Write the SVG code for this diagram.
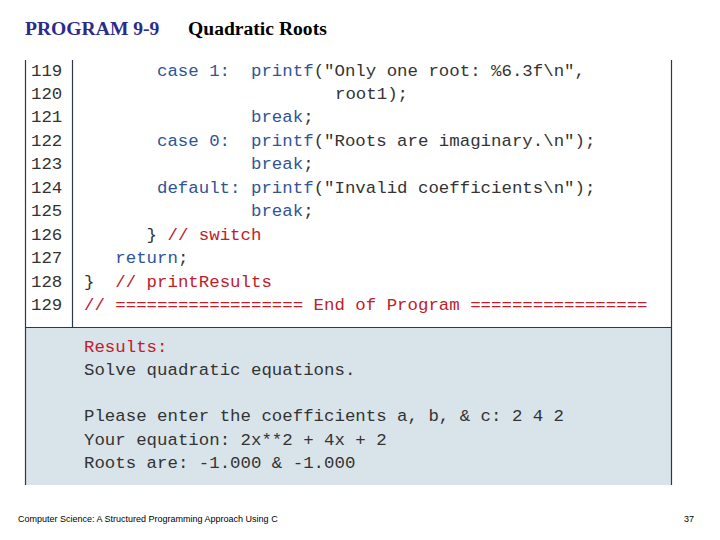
<svg xmlns="http://www.w3.org/2000/svg" width="720" height="540" viewBox="0 0 720 540">
<style>
.c{font-family:"Liberation Mono",monospace;font-size:17.4px;fill:#333;white-space:pre}
.k{fill:#2f5597}
.r{fill:#c0202a}
.t{font-family:"Liberation Serif",serif;font-size:19.6px;font-weight:bold}
.f{font-family:"Liberation Sans",sans-serif;font-size:9px;fill:#000}
</style>
<rect width="720" height="540" fill="#fff"/>
<text class="t" x="25" y="35" fill="#2b2b8c">PROGRAM 9-9</text>
<text class="t" x="188" y="35" fill="#000">Quadratic Roots</text>
<g id="listing">
<rect x="25" y="327" width="647" height="158" fill="#d9e3ea"/>
<path d="M25.5 60V485M671.5 60V485M72.5 60V327M25 327.5H672" stroke="#2a3a4a" stroke-width="1.2" fill="none"/>
<g class="c">
<text x="31" y="76">119</text><text x="157" y="76" class="k">case 1:</text><text x="251" y="76"><tspan class="k">printf</tspan>("Only one root: %6.3f\n",</text>
<text x="31" y="99">120</text><text x="335" y="99">root1);</text>
<text x="31" y="122">121</text><text x="251" y="122"><tspan class="k">break</tspan>;</text>
<text x="31" y="146">122</text><text x="157" y="146" class="k">case 0:</text><text x="251" y="146"><tspan class="k">printf</tspan>("Roots are imaginary.\n");</text>
<text x="31" y="169">123</text><text x="251" y="169"><tspan class="k">break</tspan>;</text>
<text x="31" y="193">124</text><text x="157" y="193" class="k">default:</text><text x="251" y="193"><tspan class="k">printf</tspan>("Invalid coefficients\n");</text>
<text x="31" y="216">125</text><text x="251" y="216"><tspan class="k">break</tspan>;</text>
<text x="31" y="240">126</text><text x="146.6" y="240">}</text><text x="167.5" y="240" class="r">// switch</text>
<text x="31" y="263">127</text><text x="115.3" y="263"><tspan class="k">return</tspan>;</text>
<text x="31" y="287">128</text><text x="84" y="287">}</text><text x="115.3" y="287" class="r">// printResults</text>
<text x="31" y="310">129</text><text x="84" y="310" class="r">// ================== End of Program =================</text>
<text x="84" y="352" class="r">Results:</text>
<text x="84" y="375">Solve quadratic equations.</text>
<text x="84" y="421">Please enter the coefficients a, b, &amp; c: 2 4 2</text>
<text x="84" y="445">Your equation: 2x**2 + 4x + 2</text>
<text x="84" y="468">Roots are: -1.000 &amp; -1.000</text>
</g>
</g>
<text class="f" x="18" y="522">Computer Science: A Structured Programming Approach Using C</text>
<text class="f" x="684" y="522">37</text>
</svg>
